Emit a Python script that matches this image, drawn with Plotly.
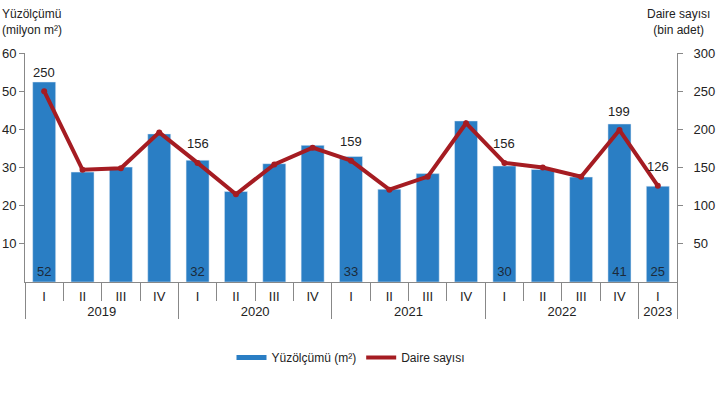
import plotly.graph_objects as go

years = ["2019"] * 4 + ["2020"] * 4 + ["2021"] * 4 + ["2022"] * 4 + ["2023"]
quarters = ["I", "II", "III", "IV"] * 4 + ["I"]
area = [52.4, 28.8, 30.1, 38.8, 31.9, 23.7, 31.0, 35.8, 32.9, 24.3, 28.4, 42.2,
        30.4, 29.5, 27.5, 41.4, 25.1]
dwellings = [250, 147, 149, 196, 156, 115, 154, 176, 159, 121, 138, 208,
             156, 150, 138, 199, 126]
area_labels = ["52", "", "", "", "32", "", "", "", "33", "", "", "",
               "30", "", "", "41", "25"]
dwell_labels = ["250", "", "", "", "156", "", "", "", "159", "", "", "",
                "156", "", "", "199", "126"]

BLUE = "#2A7EC4"
RED = "#A51C22"
FONT = "Liberation Sans, Arial, sans-serif"
TXT = "#222222"

fig = go.Figure()
fig.add_trace(go.Bar(
    x=[years, quarters], y=area, marker_color=BLUE, showlegend=False,
    text=area_labels, textposition="inside", insidetextanchor="start",
    textfont=dict(size=13, color="#1B2A3A", family=FONT), textangle=0,
    cliponaxis=False,
))
fig.add_trace(go.Scatter(
    x=[years, quarters], y=dwellings, yaxis="y2", mode="lines+markers",
    line=dict(color=RED, width=4), marker=dict(color=RED, size=6),
    showlegend=False,
))
# legend entries drawn as line swatches
fig.add_trace(go.Scatter(x=[None], y=[None], mode="lines",
                         line=dict(color=BLUE, width=5), name="Yüzölçümü (m²)"))
fig.add_trace(go.Scatter(x=[None], y=[None], mode="lines",
                         line=dict(color=RED, width=4), name="Daire sayısı"))

annotations = []
for i, (v, t) in enumerate(zip(dwellings, dwell_labels)):
    if t:
        annotations.append(dict(x=i, y=v, xref="x", yref="y2", text=t,
                                showarrow=False, yshift=19,
                                font=dict(size=13, color=TXT, family=FONT)))
annotations.append(dict(x=0, y=1.0, xref="paper", yref="paper", xshift=-25,
                        yshift=14, text="Yüzölçümü<br>(milyon m²)", showarrow=False,
                        xanchor="left", yanchor="bottom", align="left",
                        font=dict(size=12, color=TXT, family=FONT)))
annotations.append(dict(x=1.0, y=1.0, xref="paper", yref="paper", xshift=35,
                        yshift=14, text="Daire sayısı<br>(bin adet)", showarrow=False,
                        xanchor="right", yanchor="bottom", align="center",
                        font=dict(size=12, color=TXT, family=FONT)))

fig.update_layout(
    width=717, height=397,
    margin=dict(l=25, r=40, t=53, b=115),
    paper_bgcolor="white", plot_bgcolor="white",
    font=dict(family=FONT, size=13, color=TXT),
    bargap=0.4,
    xaxis=dict(type="multicategory", showline=True, linecolor="#888888",
               ticks="outside", tickson="boundaries", ticklen=18,
               tickcolor="#888888", dividercolor="#888888", dividerwidth=1,
               showgrid=False, tickfont=dict(size=13, color=TXT),
               ticklabelstandoff=2,
               automargin=False, range=[-0.5, len(area) - 0.5]),
    yaxis=dict(range=[0, 60], tickvals=[10, 20, 30, 40, 50, 60],
               showline=True, linecolor="#888888", ticks="outside",
               ticklen=5, tickcolor="#888888", showgrid=False, zeroline=False,
               tickfont=dict(size=13, color=TXT), automargin=False),
    yaxis2=dict(range=[0, 300], tickvals=[50, 100, 150, 200, 250, 300],
                overlaying="y", side="right", showline=True,
                linecolor="#888888", ticks="outside", ticklen=5,
                tickcolor="#888888", showgrid=False, zeroline=False,
                ticklabelstandoff=8,
                tickfont=dict(size=13, color=TXT), automargin=False),
    legend=dict(orientation="h", x=0.5, xanchor="center", y=-0.33,
                yanchor="middle", font=dict(size=12, color=TXT, family=FONT),
                traceorder="normal"),
    annotations=annotations,
)

fig.write_html("out.html", config={"displayModeBar": False})
with open("out.html", encoding="utf-8") as f:
    html = f.read()
html = html.replace("<head>", "<head><style>html,body{margin:0;padding:0;overflow:hidden}</style>", 1)
with open("out.html", "w", encoding="utf-8") as f:
    f.write(html)
